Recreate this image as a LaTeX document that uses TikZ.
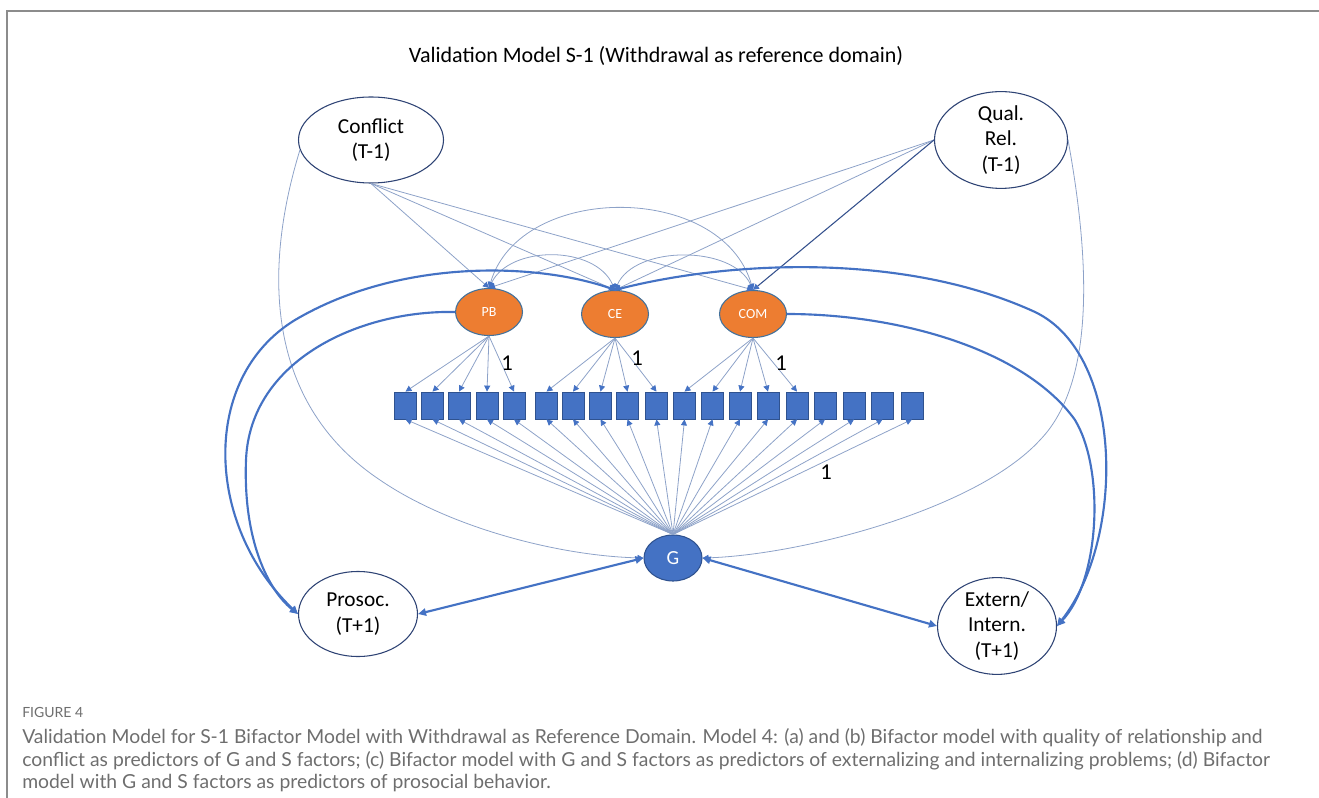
\documentclass[tikz,border=0pt]{standalone}
\usepackage{fontspec}
\setmainfont{Carlito}
\newfontfamily\capfont{Lato}
\usetikzlibrary{shapes.geometric,arrows.meta}

\definecolor{thinblue}{HTML}{8DA2C8}
\definecolor{thickblue}{HTML}{4472C4}
\definecolor{darkpath}{HTML}{34508C}
\definecolor{rim}{HTML}{2E4374}
\definecolor{factorrim}{HTML}{41719C}
\definecolor{boxrim}{HTML}{2F528F}
\definecolor{factorfill}{HTML}{ED7D31}
\definecolor{capgray}{HTML}{6E6E6E}
\definecolor{framegray}{HTML}{8C8C8C}

\begin{document}
\begin{tikzpicture}[x=0.75pt,y=-0.75pt,
  observed/.style={ellipse,draw=rim,line width=0.8pt,fill=white,inner sep=0pt,
    align=center,font=\fontsize{16}{19}\selectfont},
  sfactor/.style={ellipse,draw=factorrim,line width=0.8pt,fill=factorfill,inner sep=0pt,
    minimum width=50.25pt,minimum height=35.25pt,text=white,font=\fontsize{10.5}{12}\selectfont},
  gfactor/.style={ellipse,draw=boxrim,line width=0.8pt,fill=thickblue,inner sep=0pt,
    minimum width=43.5pt,minimum height=34.5pt,text=white,font=\fontsize{15}{17}\selectfont},
  item/.style={rectangle,draw=boxrim,line width=0.6pt,fill=thickblue,inner sep=0pt,
    minimum width=16.5pt,minimum height=20.25pt},
  thin/.style={draw=thinblue,line width=0.6pt,-{Triangle[length=4.5pt,width=4.5pt,color=thickblue]}},
  corr/.style={draw=thinblue,line width=0.6pt,{Triangle[length=4.5pt,width=4.5pt,color=thickblue]}-{Triangle[length=4.5pt,width=4.5pt,color=thickblue]}},
  thick/.style={draw=thickblue,line width=1.6pt,-{Triangle[length=6pt,width=5.5pt]}},
  thickboth/.style={draw=thickblue,line width=1.6pt,{Triangle[length=6pt,width=5.5pt]}-{Triangle[length=6pt,width=5.5pt]}},
  fixed/.style={font=\fontsize{17}{19}\selectfont,inner sep=0pt},
  capline/.style={anchor=west,inner sep=0pt,text=capgray,font=\capfont\fontsize{14.5}{17}\selectfont}
]
\useasboundingbox (0,0) rectangle (1319,798);

% card frame
\draw[framegray,line width=1.2pt] (7,798) -- (7,11) -- (1319,11);

% title
\node[font=\fontsize{16.5}{19}\selectfont] (title) at (656,56) {Validation Model S-1 (Withdrawal as reference domain)};

% predictors and outcomes
\node[observed,minimum width=108.75pt,minimum height=64.5pt] (conf) at (371,140) {Conflict\\(T-1)};
\node[observed,minimum width=99.75pt,minimum height=64.5pt] (qual) at (1001,140) {Qual.\\Rel.\\(T-1)};
\node[observed,minimum width=89.25pt,minimum height=63.75pt] (pros) at (358,614) {Prosoc.\\(T+1)};
\node[observed,minimum width=89.25pt,minimum height=64.5pt] (ext) at (997,626) {Extern/\\Intern.\\(T+1)};

% specific factors and general factor
\node[sfactor] (pb) at (489,312) {PB};
\node[sfactor] (ce) at (615,314) {CE};
\node[sfactor] (com) at (753,314) {COM};
\node[gfactor] (g) at (673,558) {G};

% indicators
\foreach \i/\x in {1/405.5,2/432.5,3/459,4/487,5/514,6/546.5,7/573,8/600.5,9/627.5,10/656.5,
                   11/684.5,12/712.5,13/740,14/768,15/797,16/825,17/854,18/882.5,19/912}
  \node[item] (b\i) at (\x,405.5) {};

% loadings of the specific factors
\foreach \i in {1,...,5} \draw[thin] (pb.south) -- (b\i.north);
\foreach \i in {6,...,10} \draw[thin] (ce.south) -- (b\i.north);
\foreach \i in {11,...,15} \draw[thin] (com.south) -- (b\i.north);
% loadings of the general factor
\foreach \i in {1,...,19} \draw[thin] (g.north) -- (b\i.south);

\node[fixed] (l1) at (507,363) {1};
\node[fixed] (l2) at (637,358) {1};
\node[fixed] (l3) at (781,363) {1};
\node[fixed] (l4) at (826,472) {1};

% predictors to factors
\draw[thin] (conf.south) -- (pb.north);
\draw[thin] (conf.south) -- (ce.north);
\draw[thin] (conf.south) -- (com.north);
\draw[thin] (qual.west) -- (pb.north);
\draw[thin] (qual.west) -- (ce.north);
\draw[draw=darkpath,line width=0.8pt,-{Triangle[length=4.5pt,width=4.5pt,color=thickblue]}] (qual.west) -- (com.north);
\draw[thin] (conf.188) .. controls (266,260) and (260,400) .. (380,480)
                      .. controls (450,528) and (560,556) .. (g.west);
\draw[thin] (qual.east) .. controls (1088,250) and (1098,380) .. (1040,440)
                      .. controls (976,510) and (800,555) .. (g.east);

% factor covariances
\draw[corr] (pb.north) .. controls (510,245) and (595,245) .. (ce.north);
\draw[corr] (ce.north) .. controls (635,245) and (733,245) .. (com.north);
\draw[corr] (pb.north) .. controls (520,182) and (722,182) .. (com.north);

% factors to outcomes
\draw[thick] (ce.north) .. controls (540,262) and (400,258) .. (295,320)
                       .. controls (200,378) and (205,525) .. (pros.west);
\draw[thick] (pb.west) .. controls (360,310) and (250,360) .. (246,460)
                      .. controls (243,540) and (268,590) .. (pros.west);
\draw[thick] (ce.north) .. controls (720,262) and (900,250) .. (1035,312)
                       .. controls (1125,355) and (1125,540) .. (ext.east);
\draw[thick] (com.east) .. controls (900,314) and (1025,350) .. (1075,420)
                       .. controls (1105,470) and (1100,580) .. (ext.east);
\draw[thickboth] (g.west) -- (pros.east);
\draw[thickboth] (g.east) -- (ext.west);

% caption
\node[anchor=west,inner sep=0pt,text=capgray,font=\capfont\fontsize{10.5}{12}\selectfont] (fig) at (22,712) {FIGURE 4};
\node[capline] (c1) at (22,738) {Validation Model for S-1 Bifactor Model with Withdrawal as Reference Domain. Model 4: (a) and (b) Bifactor model with quality of relationship and};
\node[capline] (c2) at (22,761) {conflict as predictors of G and S factors; (c) Bifactor model with G and S factors as predictors of externalizing and internalizing problems; (d) Bifactor};
\node[capline] (c3) at (22,783) {model with G and S factors as predictors of prosocial behavior.};
\end{tikzpicture}
\end{document}
